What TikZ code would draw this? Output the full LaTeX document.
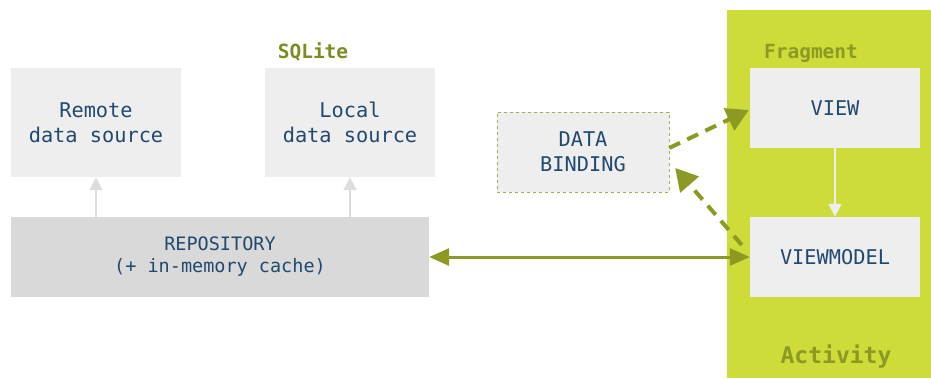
\documentclass[tikz,border=0pt]{standalone}
\usepackage{fontspec}
\setmonofont{DejaVu Sans Mono}
\usetikzlibrary{arrows.meta}
\definecolor{txtblue}{HTML}{21496F}
\definecolor{limebg}{HTML}{CDDC39}
\definecolor{olive}{HTML}{8C9A24}
\definecolor{boxgray}{HTML}{EEEEEE}
\definecolor{repogray}{HTML}{D9D9D9}
\definecolor{linkgray}{HTML}{DDDDDD}
\tikzset{
  layerbox/.style = {align=center, inner sep=0pt, draw=none, fill=boxgray, text=txtblue,
    font=\ttfamily\fontsize{20.3}{25}\selectfont, minimum width=170pt, minimum height=80pt},
  repobox/.style = {layerbox, fill=repogray, minimum width=418pt, font=\ttfamily\fontsize{18.5}{22}\selectfont},
  bindbox/.style = {layerbox, draw=olive!80, dashed, minimum width=172pt},
  tag/.style = {text=olive, font=\ttfamily\bfseries\fontsize{19.5}{22}\selectfont, inner sep=0pt},
  uplink/.style = {draw=linkgray, line width=2pt, -{Triangle[length=13pt,width=13pt]}},
  bindlink/.style = {draw=olive, line width=4pt, dash pattern=on 12pt off 8pt, -{Triangle[length=22pt,width=24pt]}}
}
\begin{document}
\begin{tikzpicture}[x=1pt, y=-1pt]
  \useasboundingbox (0,0) rectangle (931,378);
  % activity frame
  \fill[limebg] (727,10) rectangle (931,378);
  \node [tag, font=\ttfamily\bfseries\fontsize{23}{26}\selectfont] (activity) at (836,357) {Activity};
  \node [tag] (fragment) at (811,53) {Fragment};
  \node [tag, text=olive!90!black] (sqlite) at (313,52) {SQLite};
  % boxes
  \node [layerbox, minimum height=109pt] (remote) at (96,122.5) {Remote\\data source};
  \node [layerbox, minimum height=109pt] (local) at (350,122.5) {Local\\data source};
  \node [repobox] (repo) at (220,257) {REPOSITORY\\(+ in-memory cache)};
  \node [bindbox] (binding) at (583,152) {DATA\\BINDING};
  \node [layerbox] (view) at (835,108) {VIEW};
  \node [layerbox] (viewmodel) at (835,257) {VIEWMODEL};
  % links
  \draw [uplink] (repo.north -| remote) -- (remote.south);
  \draw [uplink] (repo.north -| local) -- (local.south);
  \draw [uplink, draw=boxgray] (view.south) -- (viewmodel.north);
  \draw [draw=olive, line width=3pt, {Triangle[length=20pt,width=17pt]}-{Triangle[length=20pt,width=17pt]}] (repo.east) -- (viewmodel.west);
  \draw [bindlink] ([yshift=4pt]binding.east) -- ([xshift=-1pt,yshift=-2pt]view.west);
  \draw [bindlink] ([xshift=-8pt,yshift=12pt]viewmodel.west) -- ([xshift=6pt,yshift=-16pt]binding.east);
\end{tikzpicture}
\end{document}
